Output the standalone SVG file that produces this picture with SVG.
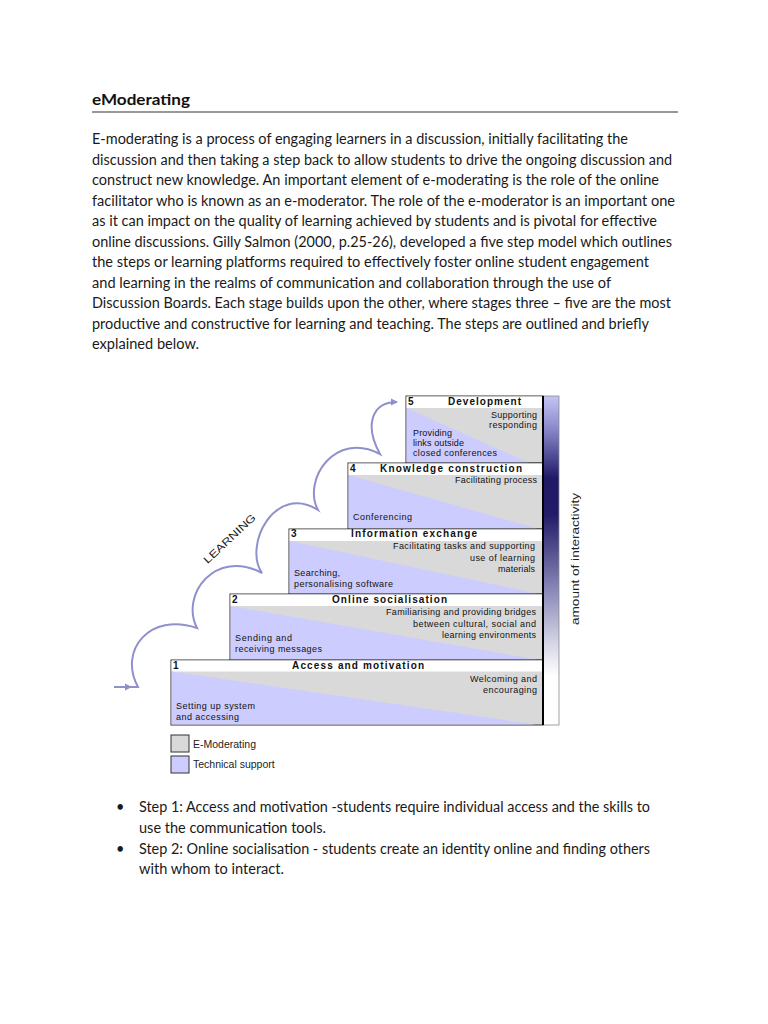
<svg xmlns="http://www.w3.org/2000/svg" width="768" height="1024" viewBox="0 0 768 1024">
<style>
.para{font-family:Lato,"Liberation Sans",sans-serif;font-size:14.5px;fill:#1a1a1a}
.title{font-family:Lato,"Liberation Sans",sans-serif;font-size:16px;font-weight:bold;fill:#111}
.hd{font-family:"Liberation Sans",Arial,sans-serif;font-size:10px;font-weight:bold;fill:#111}
.bt{font-family:"Liberation Sans",Arial,sans-serif;font-size:9px;fill:#111}
.lg{font-family:"Liberation Sans",Arial,sans-serif;font-size:10.5px;fill:#222}
.box{fill:#d9d9d9;stroke:#333;stroke-width:1}
.hdr{fill:#ffffff}
.tri{fill:#ccccff}
.curve{fill:none;stroke:#9090cc;stroke-width:2}
</style>
<defs>
<linearGradient id="inter" x1="0" y1="0" x2="0" y2="1">
<stop offset="0" stop-color="#c4c4f4"/>
<stop offset="0.1" stop-color="#8a88cc"/>
<stop offset="0.25" stop-color="#201a66"/>
<stop offset="0.36" stop-color="#221c68"/>
<stop offset="0.59" stop-color="#8a88b8"/>
<stop offset="0.74" stop-color="#d0d0e2"/>
<stop offset="0.85" stop-color="#ffffff"/>
<stop offset="1" stop-color="#ffffff"/>
</linearGradient>
<marker id="ah" markerWidth="8" markerHeight="8" refX="6" refY="4" orient="auto" markerUnits="userSpaceOnUse">
<path d="M0,0.5 L7,4 L0,7.5 Z" fill="#9090cc"/>
</marker>
</defs>
<rect width="768" height="1024" fill="#ffffff"/>

<g id="heading">
<text class="title" x="92" y="105" textLength="98" lengthAdjust="spacingAndGlyphs">eModerating</text>
<line x1="92" y1="112" x2="678" y2="112" stroke="#333" stroke-width="1"/>
</g>

<g id="paragraph">
<text class="para" x="92" y="144" textLength="536" lengthAdjust="spacingAndGlyphs">E-moderating is a process of engaging learners in a discussion, initially facilitating the</text>
<text class="para" x="92" y="164.5" textLength="580" lengthAdjust="spacingAndGlyphs">discussion and then taking a step back to allow students to drive the ongoing discussion and</text>
<text class="para" x="92" y="185" textLength="567" lengthAdjust="spacingAndGlyphs">construct new knowledge. An important element of e-moderating is the role of the online</text>
<text class="para" x="92" y="205.5" textLength="583" lengthAdjust="spacingAndGlyphs">facilitator who is known as an e-moderator. The role of the e-moderator is an important one</text>
<text class="para" x="92" y="226" textLength="565" lengthAdjust="spacingAndGlyphs">as it can impact on the quality of learning achieved by students and is pivotal for effective</text>
<text class="para" x="92" y="246.5" textLength="580" lengthAdjust="spacingAndGlyphs">online discussions. Gilly Salmon (2000, p.25-26), developed a five step model which outlines</text>
<text class="para" x="92" y="267" textLength="557" lengthAdjust="spacingAndGlyphs">the steps or learning platforms required to effectively foster online student engagement</text>
<text class="para" x="92" y="287.5" textLength="519" lengthAdjust="spacingAndGlyphs">and learning in the realms of communication and collaboration through the use of</text>
<text class="para" x="92" y="308" textLength="579" lengthAdjust="spacingAndGlyphs">Discussion Boards. Each stage builds upon the other, where stages three – five are the most</text>
<text class="para" x="92" y="328.5" textLength="557" lengthAdjust="spacingAndGlyphs">productive and constructive for learning and teaching. The steps are outlined and briefly</text>
<text class="para" x="92" y="349" textLength="107" lengthAdjust="spacingAndGlyphs">explained below.</text>
</g>

<g id="connectors">
<path class="curve" d="M114,687 L131,687" marker-end="url(#ah)"/>
<path class="curve" d="M130,687 L138,687 C118,650 150,612 197,628 C180,595 215,548 262,573 C243,545 275,483 318,510 C302,480 335,430 380,454 C364,425 372,402 397,402" marker-end="url(#ah)"/>
</g>

<g id="learning-label">
<text class="lg" transform="translate(229,538) rotate(-43)" x="0" y="4.5" text-anchor="middle" font-size="12" fill="#333" textLength="67" lengthAdjust="spacingAndGlyphs">LEARNING</text>
</g>

<g id="step5">
<rect class="box" x="406" y="396" width="137" height="67"/>
<rect class="hdr" x="406.5" y="396.5" width="136" height="11.5"/>
<polygon class="tri" points="406.5,408 528,462.5 406.5,462.5"/>
<text class="hd" x="408" y="405">5</text>
<text class="hd" x="448" y="405" textLength="73" lengthAdjust="spacing">Development</text>
<text class="bt" x="491" y="418" textLength="46" lengthAdjust="spacing">Supporting</text>
<text class="bt" x="489" y="428" textLength="48" lengthAdjust="spacing">responding</text>
<text class="bt" x="413" y="436" textLength="39" lengthAdjust="spacing">Providing</text>
<text class="bt" x="413" y="446" textLength="51" lengthAdjust="spacing">links outside</text>
<text class="bt" x="413" y="456" textLength="84" lengthAdjust="spacing">closed conferences</text>
</g>

<g id="step4">
<rect class="box" x="348" y="463" width="195" height="66"/>
<rect class="hdr" x="348.5" y="463.5" width="194" height="11.5"/>
<polygon class="tri" points="348.5,475 537,528.5 348.5,528.5"/>
<text class="hd" x="350" y="472">4</text>
<text class="hd" x="380" y="472" textLength="142" lengthAdjust="spacing">Knowledge construction</text>
<text class="bt" x="455" y="483" textLength="82" lengthAdjust="spacing">Facilitating process</text>
<text class="bt" x="353" y="520" textLength="59" lengthAdjust="spacing">Conferencing</text>
</g>

<g id="step3">
<rect class="box" x="289" y="529" width="254" height="65"/>
<rect class="hdr" x="289.5" y="529.5" width="253" height="11.5"/>
<polygon class="tri" points="289.5,541 537,593.5 289.5,593.5"/>
<text class="hd" x="291" y="537">3</text>
<text class="hd" x="351" y="537" textLength="126" lengthAdjust="spacing">Information exchange</text>
<text class="bt" x="393" y="549" textLength="142" lengthAdjust="spacing">Facilitating tasks and supporting</text>
<text class="bt" x="470" y="561" textLength="65" lengthAdjust="spacing">use of learning</text>
<text class="bt" x="498" y="572" textLength="37" lengthAdjust="spacing">materials</text>
<text class="bt" x="294" y="576" textLength="46" lengthAdjust="spacing">Searching,</text>
<text class="bt" x="294" y="587" textLength="99" lengthAdjust="spacing">personalising software</text>
</g>

<g id="step2">
<rect class="box" x="230" y="594" width="313" height="66"/>
<rect class="hdr" x="230.5" y="594.5" width="312" height="11.5"/>
<polygon class="tri" points="230.5,606 537,659.5 230.5,659.5"/>
<text class="hd" x="232" y="603">2</text>
<text class="hd" x="332" y="603" textLength="115" lengthAdjust="spacing">Online socialisation</text>
<text class="bt" x="386" y="615" textLength="150" lengthAdjust="spacing">Familiarising and providing bridges</text>
<text class="bt" x="413" y="627" textLength="123" lengthAdjust="spacing">between cultural, social and</text>
<text class="bt" x="442" y="638" textLength="94" lengthAdjust="spacing">learning environments</text>
<text class="bt" x="235" y="641" textLength="57" lengthAdjust="spacing">Sending and</text>
<text class="bt" x="235" y="652" textLength="87" lengthAdjust="spacing">receiving messages</text>
</g>

<g id="step1">
<rect class="box" x="171" y="660" width="372" height="65"/>
<rect class="hdr" x="171.5" y="660.5" width="371" height="11"/>
<polygon class="tri" points="171.5,671.5 535,724.5 171.5,724.5"/>
<text class="hd" x="173" y="668.5">1</text>
<text class="hd" x="292" y="668.5" textLength="132" lengthAdjust="spacing">Access and motivation</text>
<text class="bt" x="470" y="682" textLength="67" lengthAdjust="spacing">Welcoming and</text>
<text class="bt" x="483" y="693" textLength="54" lengthAdjust="spacing">encouraging</text>
<text class="bt" x="176" y="709" textLength="79" lengthAdjust="spacing">Setting up system</text>
<text class="bt" x="176" y="720" textLength="63" lengthAdjust="spacing">and accessing</text>
</g>

<g id="interactivity">
<rect x="543" y="396" width="16" height="329" fill="url(#inter)" stroke="#8a8a8a" stroke-width="0.8"/>
<line x1="543" y1="396" x2="543" y2="725" stroke="#000" stroke-width="2"/>
<text class="lg" transform="translate(579,559) rotate(-90)" x="0" y="0" text-anchor="middle" font-size="11.5" fill="#222" textLength="132" lengthAdjust="spacingAndGlyphs">amount of interactivity</text>
</g>

<g id="legend">
<rect x="171" y="735" width="18" height="17" fill="#d9d9d9" stroke="#333" stroke-width="1"/>
<text class="lg" x="193" y="748" font-size="11">E-Moderating</text>
<rect x="171" y="756" width="18" height="17" fill="#ccccff" stroke="#333" stroke-width="1"/>
<text class="lg" x="193" y="768" font-size="11">Technical support</text>
</g>

<g id="bullets">
<text class="para" x="116" y="812">•</text>
<text class="para" x="139" y="812" textLength="511" lengthAdjust="spacingAndGlyphs">Step 1: Access and motivation -students require individual access and the skills to</text>
<text class="para" x="139" y="832.5" textLength="187" lengthAdjust="spacingAndGlyphs">use the communication tools.</text>
<text class="para" x="116" y="853.5">•</text>
<text class="para" x="139" y="853.5" textLength="511" lengthAdjust="spacingAndGlyphs">Step 2: Online socialisation - students create an identity online and finding others</text>
<text class="para" x="139" y="874" textLength="145" lengthAdjust="spacingAndGlyphs">with whom to interact.</text>
</g>
</svg>
